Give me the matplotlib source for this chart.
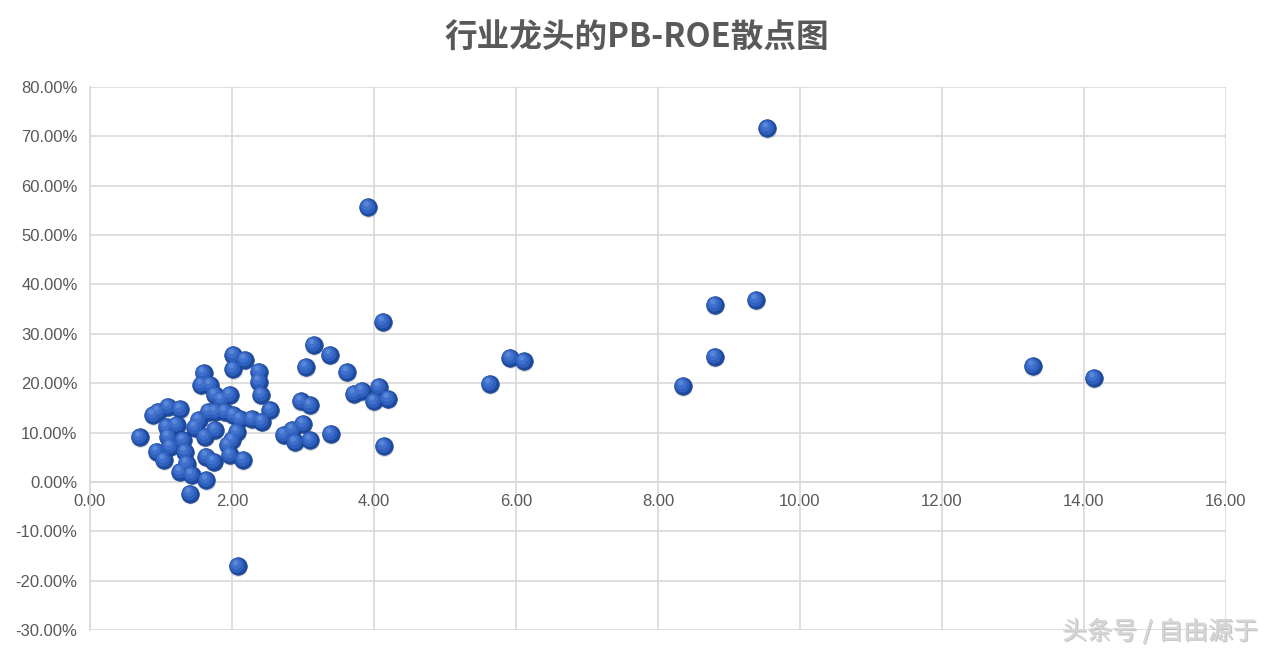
import matplotlib
matplotlib.use("Agg")
import matplotlib.pyplot as plt
import matplotlib.transforms as mtransforms
import matplotlib.patheffects as pe
from matplotlib.ticker import FuncFormatter, MultipleLocator

# PB values (x) and ROE values in % (y)
pb = [0.70, 0.94, 1.04, 0.96, 0.89, 1.10, 1.27, 1.08, 1.22, 1.10,
      1.13, 1.31, 1.34, 1.36, 1.27, 1.43, 1.41, 1.48, 1.53, 1.62,
      1.64, 1.74, 1.64, 1.76, 1.60, 1.57, 1.69, 1.76, 1.85, 1.97,
      1.67, 1.76, 1.90, 2.02, 2.11, 2.28, 2.42, 2.54, 2.02, 2.18,
      2.02, 2.38, 2.38, 2.41, 2.07, 2.00, 1.97, 2.16, 1.94, 2.08,
      2.73, 2.85, 2.89, 2.97, 3.04, 3.00, 3.10, 3.10, 3.15, 3.38,
      3.39, 3.62, 3.72, 3.83, 3.92, 4.00, 4.07, 4.13, 4.14, 4.20,
      5.63, 5.92, 6.11, 8.35, 8.80, 8.80, 9.38, 9.54, 13.28, 14.14]
roe = [9.0, 6.1, 4.4, 14.2, 13.5, 15.2, 14.7, 11.1, 11.5, 9.1,
       7.1, 8.4, 6.1, 3.7, 2.0, 1.4, -2.4, 11.0, 12.5, 9.1,
       5.1, 4.1, 0.3, 10.5, 22.0, 19.6, 19.6, 17.6, 16.6, 17.6,
       14.2, 14.2, 14.2, 13.5, 12.7, 12.7, 12.2, 14.5, 25.7, 24.7,
       22.8, 22.3, 20.3, 17.6, 10.1, 8.4, 5.4, 4.4, 7.4, -17.1,
       9.5, 10.5, 8.0, 16.3, 23.2, 11.7, 15.5, 8.4, 27.7, 25.7,
       9.7, 22.2, 17.8, 18.4, 55.6, 16.3, 19.2, 32.4, 7.2, 16.8,
       19.8, 25.1, 24.4, 19.4, 35.8, 25.3, 36.8, 71.6, 23.4, 21.0]

title = "行业龙头的PB-ROE散点图"
watermark = "头条号 / 自由源于"

plt.rcParams['font.family'] = ['Liberation Sans', 'Noto Sans CJK SC', 'DejaVu Sans']

fig = plt.figure(figsize=(12.74, 6.53), dpi=100)
ax = fig.add_axes([90/1274, 1-630/653, (1226-90)/1274, (630-87)/653])

ax.set_xlim(0, 16)
ax.set_ylim(-30, 80)
ax.xaxis.set_major_locator(MultipleLocator(2))
ax.yaxis.set_major_locator(MultipleLocator(10))
ax.xaxis.set_major_formatter(FuncFormatter(lambda v, p: f"{v:.2f}"))
ax.yaxis.set_major_formatter(FuncFormatter(lambda v, p: f"{v:.2f}%"))
ax.grid(True, color='#d9d9d9', linewidth=1.2, zorder=0)
ax.set_axisbelow(True)
for s in ['top', 'right']:
    ax.spines[s].set_visible(False)
ax.spines['bottom'].set_position(('data', 0))
ax.spines['bottom'].set_color('#d9d9d9')
ax.spines['bottom'].set_linewidth(1.2)
ax.spines['left'].set_color('#d9d9d9')
ax.spines['left'].set_linewidth(1.2)
ax.tick_params(axis='both', length=0, labelsize=12, labelcolor='#595959')
ax.tick_params(axis='x', pad=9)
ax.tick_params(axis='y', pad=9)

# sphere-like markers: soft shadow, dark base, mid body, highlight
offs = mtransforms.offset_copy(ax.transData, fig=fig, x=0.5, y=-1.5, units='dots')
ax.scatter(pb, roe, s=175, color='#7f7f7f', edgecolors='none', transform=offs, zorder=2, alpha=0.25)
ax.scatter(pb, roe, s=160, color='#1d4a9e', edgecolors='#1a4290', linewidths=0.5, zorder=3)
off1 = mtransforms.offset_copy(ax.transData, fig=fig, x=-0.8, y=1.0, units='dots')
ax.scatter(pb, roe, s=115, color='#2f60bd', edgecolors='none', transform=off1, zorder=4)
off2 = mtransforms.offset_copy(ax.transData, fig=fig, x=-1.5, y=2.2, units='dots')
ax.scatter(pb, roe, s=55, color='#4273cf', edgecolors='none', transform=off2, zorder=5, alpha=0.85)
off3 = mtransforms.offset_copy(ax.transData, fig=fig, x=-2.0, y=3.5, units='dots')
ax.scatter(pb, roe, s=14, color='#5f8ddc', edgecolors='none', transform=off3, zorder=6, alpha=0.8)

fig.text(637/1274, 1-38/653, title, ha='center', va='center', fontsize=23.5,
         fontweight='bold', color='#595959',
         family=['Noto Sans CJK SC', 'DejaVu Sans'])

fig.text(1160/1274, 1-632/653, watermark, ha='center', va='center', fontsize=18,
         color='#d6d6d6', family=['Noto Sans CJK SC', 'DejaVu Sans'],
         path_effects=[pe.withSimplePatchShadow(offset=(1, -1), shadow_rgbFace='#909090', alpha=0.5),
                       pe.Normal()])

fig.savefig('out.png', dpi=100)
